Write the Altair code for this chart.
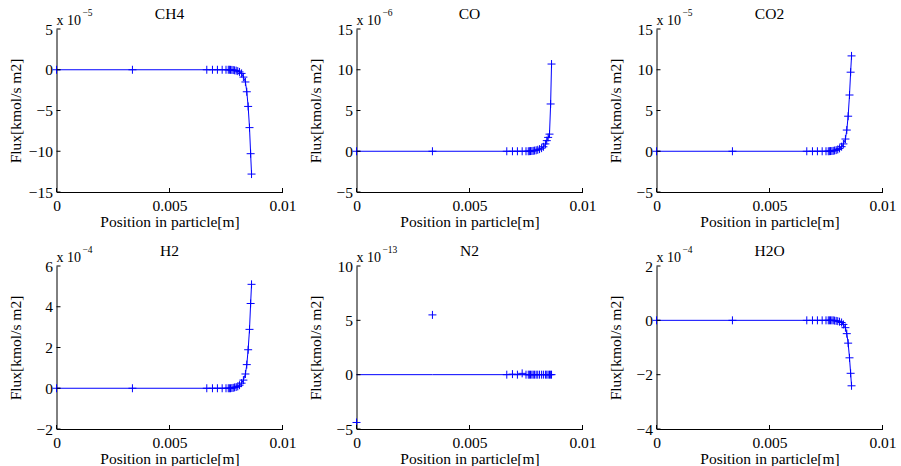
import altair as alt
import pandas as pd

FONT = "Liberation Serif"
FS = 15.5
BLUE = "#0000ff"

# Positions in particle [m]
X_POS = [0.0, 0.00336, 0.00665, 0.00690, 0.00712, 0.00733, 0.00750, 0.00760,
         0.00765, 0.00770, 0.00776, 0.00782, 0.00788, 0.00795, 0.00802, 0.00810,
         0.00819, 0.00827, 0.00836, 0.00842, 0.00848, 0.00854, 0.00859, 0.00863]

SPECIES = ["CH4", "CO", "CO2", "H2", "N2", "H2O"]
EXPONENTS = [-5, -6, -5, -4, -13, -4]

# Flux values in units of 10^exponent kmol/s m2
CH4 = [0, 0, 0, 0, 0, 0, 0, 0, 0, -0.01, -0.02, -0.04, -0.07, -0.11, -0.17, -0.27,
       -0.45, -0.9, -1.5, -2.7, -4.5, -7.1, -10.3, -12.8]
CO = [0, 0, 0, 0, 0, 0, 0, 0, 0.01, 0.02, 0.03, 0.05, 0.08, 0.12, 0.18, 0.26,
      0.38, 0.55, 0.9, 1.3, 1.7, 2.1, 5.8, 10.7]
CO2 = [0, 0, 0, 0, 0, 0, 0, 0, 0.01, 0.02, 0.03, 0.05, 0.09, 0.14, 0.22, 0.35,
       0.56, 0.9, 1.5, 2.6, 4.3, 6.9, 9.7, 11.7]
H2 = [0, 0, 0, 0, 0, 0, 0, 0, 0, 0, 0.01, 0.02, 0.04, 0.06, 0.09, 0.15,
      0.25, 0.40, 0.70, 1.16, 1.89, 2.89, 4.16, 5.1]
N2_MARK = [-4.4, 5.5, 0, 0.05, 0, 0.12, 0, 0, 0, 0, 0, 0, 0, 0, 0, 0,
           0, 0, 0, 0, 0, 0, 0, 0]
N2_LINE = [0, 0, 0, 0, 0, 0, 0, 0, 0, 0, 0, 0, 0, 0, 0, 0,
           0, 0, 0, 0, 0, 0, 0, 0]
H2O = [0, 0, 0, 0, 0, 0, 0, 0, 0, 0, 0, 0, -0.01, -0.02, -0.03, -0.05,
       -0.08, -0.15, -0.27, -0.49, -0.84, -1.38, -1.95, -2.41]

MARKS = [CH4, CO, CO2, H2, N2_MARK, H2O]
LINES = [CH4, CO, CO2, H2, N2_LINE, H2O]

Y_DOMAINS = [[-15, 5], [-5, 15], [-5, 15], [-2, 6], [-5, 10], [-4, 2]]
Y_TICKS = [[-15, -10, -5, 0, 5], [-5, 0, 5, 10, 15], [-5, 0, 5, 10, 15],
           [-2, 0, 2, 4, 6], [-5, 0, 5, 10], [-4, -2, 0, 2]]
X_TICKS = [0, 0.005, 0.01]

X_TITLE = "Position in particle[m]"
Y_TITLE = "Flux[kmol/s m2]"

W, H = 226, 163
PLUS = "M-1,0L1,0M0,-1L0,1"


def panel(name, marks, line, expo, ydom, yticks):
    df = pd.DataFrame({"x": X_POS, "y": marks, "yl": line})
    xs = alt.Scale(domain=[0, 0.01], nice=False, zero=False)
    ys = alt.Scale(domain=ydom, nice=False, zero=False)
    xaxis = alt.Axis(values=X_TICKS, format="~g", grid=False, ticks=False, tickSize=0,
                     labelPadding=6, labelFlush=False, labelOverlap=False,
                     minExtent=19, maxExtent=19, titlePadding=3,
                     domainColor="black", domainWidth=1,
                     labelFont=FONT, labelFontSize=FS, labelColor="black",
                     titleFont=FONT, titleFontSize=FS, titleFontWeight="normal",
                     titleColor="black")
    yaxis = alt.Axis(values=yticks, format="d", grid=False, ticks=False, tickSize=0,
                     labelPadding=4, labelOverlap=False,
                     minExtent=30, maxExtent=30, titlePadding=3,
                     domainColor="black", domainWidth=1,
                     labelFont=FONT, labelFontSize=FS, labelColor="black",
                     titleFont=FONT, titleFontSize=FS, titleFontWeight="normal",
                     titleColor="black")

    base = alt.Chart(df)
    ln = base.mark_line(color=BLUE, strokeWidth=1).encode(
        x=alt.X("x:Q", scale=xs, axis=xaxis, title=X_TITLE),
        y=alt.Y("yl:Q", scale=ys, axis=yaxis, title=Y_TITLE),
    )
    pts = base.mark_point(shape=PLUS, filled=False, size=64, color=BLUE,
                          strokeWidth=1, opacity=1).encode(
        x=alt.X("x:Q", scale=xs, title=X_TITLE),
        y=alt.Y("y:Q", scale=ys, title=Y_TITLE),
    )
    ytk = alt.Chart(pd.DataFrame({"v": yticks})).mark_rule(color="black", strokeWidth=1).encode(
        y=alt.Y("v:Q", scale=ys, title=Y_TITLE),
        x=alt.value(0), x2=alt.value(4),
    )
    xtk = alt.Chart(pd.DataFrame({"v": X_TICKS})).mark_rule(color="black", strokeWidth=1).encode(
        x=alt.X("v:Q", scale=xs, title=X_TITLE),
        y=alt.value(H), y2=alt.value(H - 4),
    )
    ttl = alt.Chart(pd.DataFrame({"t": [name]})).mark_text(
        align="center", baseline="alphabetic", font=FONT, fontSize=FS, color="black"
    ).encode(x=alt.value(W / 2), y=alt.value(-10), text="t:N")
    x10 = alt.Chart(pd.DataFrame({"t": ["x 10"]})).mark_text(
        align="left", baseline="alphabetic", font=FONT, fontSize=14, color="black"
    ).encode(x=alt.value(0), y=alt.value(-4), text="t:N")
    sup = alt.Chart(pd.DataFrame({"t": ["\u2212" + str(abs(expo))]})).mark_text(
        align="left", baseline="alphabetic", font=FONT, fontSize=9.5, color="black"
    ).encode(x=alt.value(26), y=alt.value(-13), text="t:N")

    return alt.layer(ln, pts, ytk, xtk, ttl, x10, sup).properties(width=W, height=H)


panels = [panel(SPECIES[i], MARKS[i], LINES[i], EXPONENTS[i], Y_DOMAINS[i], Y_TICKS[i])
          for i in range(6)]

chart = alt.concat(*panels, columns=3, spacing=74, bounds="flush").properties(
    padding={"left": 8.5, "top": 7, "right": 2, "bottom": 0},
    background="white",
).configure_view(stroke=None)

chart.save("out.html", embed_options={"renderer": "svg", "actions": False})
